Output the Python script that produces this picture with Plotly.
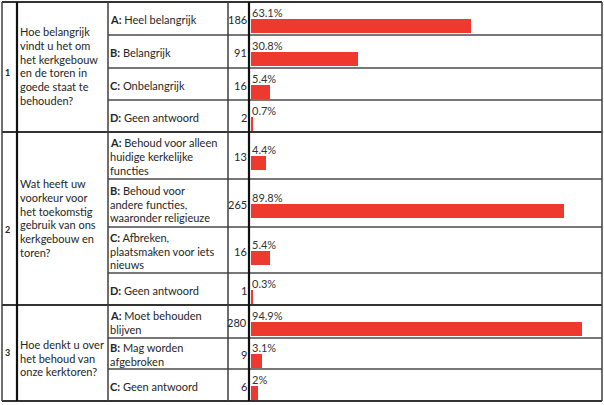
import plotly.graph_objects as go

# ---------------- data ----------------
numbers = ["1", "2", "3"]
questions = [
    ["Hoe belangrijk", "vindt u het om", "het kerkgebouw", "en de toren in", "goede staat te", "behouden?"],
    ["Wat heeft uw", "voorkeur voor", "het toekomstig", "gebruik van ons", "kerkgebouw en", "toren?"],
    ["Hoe denkt u over", "het behoud van", "onze kerktoren?"],
]
answer_letters = ["A:", "B:", "C:", "D:", "A:", "B:", "C:", "D:", "A:", "B:", "C:"]
answer_texts = [
    ["Heel belangrijk"],
    ["Belangrijk"],
    ["Onbelangrijk"],
    ["Geen antwoord"],
    ["Behoud voor alleen", "huidige kerkelijke", "functies"],
    ["Behoud voor", "andere functies,", "waaronder religieuze"],
    ["Afbreken,", "plaatsmaken voor iets", "nieuws"],
    ["Geen antwoord"],
    ["Moet behouden", "blijven"],
    ["Mag worden", "afgebroken"],
    ["Geen antwoord"],
]
counts = [186, 91, 16, 2, 13, 265, 16, 1, 280, 9, 6]
percents = [63.1, 30.8, 5.4, 0.7, 4.4, 89.8, 5.4, 0.3, 94.9, 3.1, 2.0]
percent_labels = ["63.1%", "30.8%", "5.4%", "0.7%", "4.4%", "89.8%", "5.4%", "0.3%", "94.9%", "3.1%", "2%"]

# ---------------- layout geometry (pixels) ----------------
W, H = 604, 405
row_edges = [2, 35, 68, 100, 132, 179, 227, 273, 305, 338, 369, 401]
section_edges = [2, 132, 305, 401]
col_edges = [2, 17, 108, 228, 249, 602]
number_y = [72, 229, 352]
question_y = [66, 218, 358]
bar_x0 = 251
px_per_pct = 3.49
BAR_COLOR = "#EE3A2E"
TXT = "#262626"
FONT = "Lato"
FS = 11

row_centers = [(row_edges[i] + row_edges[i + 1]) / 2 for i in range(len(row_edges) - 1)]

fig = go.Figure()
fig.add_trace(go.Bar(
    x=percents,
    y=[c + 7.5 for c in row_centers],
    orientation="h",
    width=14,
    marker=dict(color=BAR_COLOR, line=dict(width=0)),
    xaxis="x2", yaxis="y",
    hoverinfo="skip",
))

shapes = []
def px(x):
    return x / W

# horizontal row lines (answer/count/bar columns)
for y in row_edges:
    if y in section_edges:
        continue
    shapes.append(dict(type="line", xref="paper", yref="y", x0=px(col_edges[2]), x1=px(col_edges[-1]),
                       y0=y, y1=y, line=dict(color="#4a4a4a", width=1.4)))
for y in section_edges:
    shapes.append(dict(type="line", xref="paper", yref="y", x0=px(col_edges[0]), x1=px(col_edges[-1]),
                       y0=y, y1=y, line=dict(color="#333333", width=2)))
for i, x in enumerate(col_edges):
    thick = i in (1, 4)
    shapes.append(dict(type="line", xref="paper", yref="y", x0=px(x), x1=px(x),
                       y0=section_edges[0], y1=section_edges[-1],
                       line=dict(color="#111111" if thick else "#3f3f3f", width=2.2 if thick else 1.5)))

ann = []
def text(x, y, s, anchor="left", size=FS, bold=False, color=TXT):
    ann.append(dict(xref="paper", yref="y", x=px(x), y=y, text=(f"<b>{s}</b>" if bold else s),
                    showarrow=False, xanchor=anchor, yanchor="middle",
                    font=dict(family=FONT, size=size, color=color), borderpad=0))

# question numbers and questions
for i, n in enumerate(numbers):
    text(4, number_y[i], n, size=9, bold=True)
    lines = questions[i]
    lh = 13.8
    start = question_y[i] - lh * (len(lines) - 1) / 2
    for j, ln in enumerate(lines):
        text(19, start + j * lh, ln)

# answers
for i in range(len(answer_letters)):
    lines = answer_texts[i]
    lh = 13.8
    c = row_centers[i] + 1
    start = c - lh * (len(lines) - 1) / 2
    for j, ln in enumerate(lines):
        s = (f"<b>{answer_letters[i]}</b> " + ln) if j == 0 else ln
        text(109, start + j * lh, s)
    # counts
    text(248, row_centers[i] + 1, str(counts[i]), anchor="right")
    # percentage labels
    text(251, row_centers[i] - 6, percent_labels[i], color="#333333")

fig.update_layout(
    width=W, height=H,
    margin=dict(l=0, r=0, t=0, b=0),
    paper_bgcolor="white", plot_bgcolor="rgba(0,0,0,0)",
    showlegend=False,
    shapes=shapes, annotations=ann,
    xaxis=dict(visible=False, range=[0, 1], domain=[0, 1]),
    xaxis2=dict(visible=False, domain=[bar_x0 / W, 1], range=[0, (W - bar_x0) / px_per_pct],
                anchor="y", fixedrange=True),
    yaxis=dict(visible=False, range=[H, 0], domain=[0, 1], fixedrange=True),
    bargap=0,
)
fig.write_html(
    "out.html",
    config={"displayModeBar": False},
    post_script="document.body.style.margin='0px'; document.body.style.overflow='hidden';",
)
